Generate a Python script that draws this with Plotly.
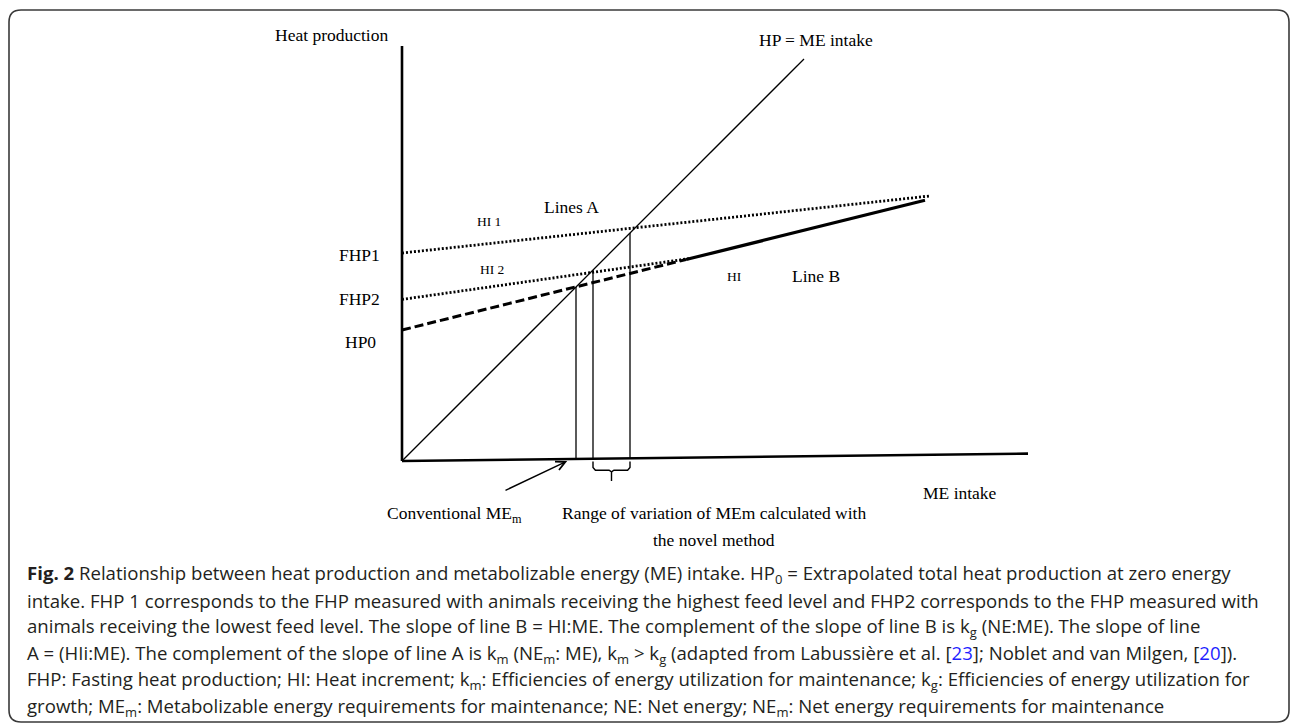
import plotly.graph_objects as go

# ---------------- data (conceptual units: 1 unit of ME intake / heat production) ----------------
x_axis_end = 156.5          # end of ME intake axis
x_axis_rise = 1.85          # slight rise of the drawn x axis at its end
y_axis_top = 103.75         # top of heat production axis
diag_end = 100.5            # HP = ME intake line end

hi1_intercept, hi1_slope, hi1_end = 52.0, 0.108, 131.75      # FHP1 dotted line (HI 1)
fhp2_intercept, fhp2_slope, fhp2_end = 40.4, 0.142, 72.0     # FHP2 dotted line (HI 2)
hp0_intercept, lineb_slope = 32.75, 0.248                     # line B (HP0 extrapolation)
lineb_start, lineb_end = 71.0, 130.75

mem_values = [43.5, 47.75, 57.0]   # conventional MEm, and range of MEm (novel method)

caption_lines = [
    "<b>Fig. 2</b> Relationship between heat production and metabolizable energy (ME) intake. HP<sub>0</sub> = Extrapolated total heat production at zero energy",
    "intake. FHP 1 corresponds to the FHP measured with animals receiving the highest feed level and FHP2 corresponds to the FHP measured with",
    "animals receiving the lowest feed level. The slope of line B = HI:ME. The complement of the slope of line B is k<sub>g</sub> (NE:ME). The slope of line",
    "A = (HIi:ME). The complement of the slope of line A is k<sub>m</sub> (NE<sub>m</sub>: ME), k<sub>m</sub> > k<sub>g</sub> (adapted from Labussière et al. [<span style='color:#1f1fff'>23</span>]; Noblet and van Milgen, [<span style='color:#1f1fff'>20</span>]).",
    "FHP: Fasting heat production; HI: Heat increment; k<sub>m</sub>: Efficiencies of energy utilization for maintenance; k<sub>g</sub>: Efficiencies of energy utilization for",
    "growth; ME<sub>m</sub>: Metabolizable energy requirements for maintenance; NE: Net energy; NE<sub>m</sub>: Net energy requirements for maintenance",
]

# ---------------- figure ----------------
W, H = 1295, 728
ORIGIN_PX = (402, 461)
SCALE = 4.0  # px per unit
x_range = [(0 - ORIGIN_PX[0]) / SCALE, (W - ORIGIN_PX[0]) / SCALE]
y_range = [(ORIGIN_PX[1] - H) / SCALE, ORIGIN_PX[1] / SCALE]

fig = go.Figure()

def line(xs, ys, width, dash="solid", color="black"):
    fig.add_trace(go.Scatter(x=xs, y=ys, mode="lines", hoverinfo="skip", showlegend=False,
                             line=dict(color=color, width=width, dash=dash)))

def axis_y_at(x):
    return x_axis_rise * x / x_axis_end

# axes
line([0, 0], [0, y_axis_top], 2.6)
line([0, x_axis_end], [0, x_axis_rise], 2.6)
# HP = ME intake
line([0, diag_end], [0, diag_end], 1.3)
# dotted lines A
line([0, hi1_end], [hi1_intercept, hi1_intercept + hi1_slope * hi1_end], 2.8, dash="2px,2px")
line([0, fhp2_end], [fhp2_intercept, fhp2_intercept + fhp2_slope * fhp2_end], 2.8, dash="2px,2px")
# dashed extrapolation of line B and solid line B
line([0, lineb_start], [hp0_intercept, hp0_intercept + lineb_slope * lineb_start], 3, dash="9px,4px")
line([lineb_start, lineb_end], [hp0_intercept + lineb_slope * lineb_start,
                                hp0_intercept + lineb_slope * lineb_end], 3.2)
# vertical lines to HP = ME intake
for m in mem_values:
    line([m, m], [axis_y_at(m), m], 1.3)

# brace under the range of MEm
x2, x3 = mem_values[1], mem_values[2]
xc = (x2 + x3) / 2
bx = [x2, x2, x2 + 0.6, xc - 0.6, xc, xc, None, xc, xc + 0.6, x3 - 0.6, x3, x3]
by = [-0.1, -1.6, -2.3, -2.3, -2.7, -5.0, None, -2.7, -2.3, -2.3, -1.6, -0.1]
line(bx, by, 1.4)

serif = "Liberation Serif"
def label(x, y, text, size=17.5, xanchor="center"):
    fig.add_annotation(x=x, y=y, xref="x", yref="y", text=text, showarrow=False,
                       xanchor=xanchor, yanchor="middle",
                       font=dict(family=serif, size=size, color="black"))

label(-17.75, 106.5, "Heat production")
label(103.5, 105.25, "HP = ME intake")
label(42.25, 63.5, "Lines A")
label(21.75, 60.0, "HI 1", size=13.5)
label(-5.0, 51.5, "FHP1", xanchor="right")
label(22.5, 48.0, "HI 2", size=13.5)
label(-5.0, 40.6, "FHP2", xanchor="right")
label(-6.0, 29.75, "HP0", xanchor="right")
label(83.0, 46.25, "HI", size=13.5)
label(103.5, 46.25, "Line B")
label(139.5, -8.0, "ME intake")
label(13.0, -13.25, "Conventional ME<sub>m</sub>")
label(78.0, -13.0, "Range of variation of MEm calculated with")
label(78.0, -19.75, "the novel method")

# arrow pointing at conventional MEm
fig.add_annotation(x=mem_values[0] - 2.2, y=0.0, ax=mem_values[0] - 18, ay=-7.5,
                   xref="x", yref="y", axref="x", ayref="y", text="",
                   showarrow=True, arrowhead=5, arrowsize=1.3, arrowwidth=1.4,
                   arrowcolor="black", standoff=0)

# caption
cap_y_px = [574, 600.5, 627, 653.5, 680, 706.5]
for txt, ypx in zip(caption_lines, cap_y_px):
    fig.add_annotation(x=25 / W, y=1 - ypx / H, xref="paper", yref="paper", text=txt,
                       showarrow=False, xanchor="left", yanchor="middle", align="left",
                       font=dict(family="Open Sans", size=18.6, color="#231f20"))

# rounded frame
l, t, r, b, rad = 9 / W, 1 - 10 / H, 1289 / W, 1 - 722 / H, 12
rx, ry = rad / W, rad / H
path = (f"M {l+rx},{t} L {r-rx},{t} Q {r},{t} {r},{t-ry} L {r},{b+ry} Q {r},{b} {r-rx},{b} "
        f"L {l+rx},{b} Q {l},{b} {l},{b+ry} L {l},{t-ry} Q {l},{t} {l+rx},{t} Z")
fig.add_shape(type="path", path=path, xref="paper", yref="paper",
              line=dict(color="#3a3a3a", width=1.6), layer="below")

fig.update_layout(
    width=W, height=H, margin=dict(l=0, r=0, t=0, b=0),
    paper_bgcolor="white", plot_bgcolor="white", showlegend=False,
    xaxis=dict(range=x_range, visible=False, fixedrange=True),
    yaxis=dict(range=y_range, visible=False, fixedrange=True),
)

fig.write_html("out.html", config={"displayModeBar": False})
